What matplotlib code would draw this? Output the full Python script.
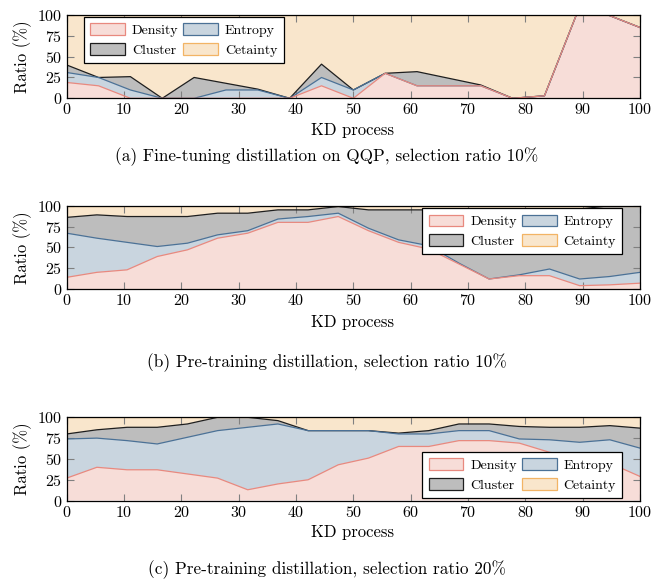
import numpy as np
import matplotlib
matplotlib.use("Agg")
import matplotlib.pyplot as plt
from matplotlib.patches import Patch

plt.rcParams['font.family'] = 'serif'
plt.rcParams['font.serif'] = ['cmr10']
plt.rcParams['mathtext.fontset'] = 'cm'
plt.rcParams['axes.formatter.use_mathtext'] = True

names = ['Density', 'Entropy', 'Cluster', 'Cetainty']
fills = ['#f7ddd8', '#c9d5df', '#bdbdbd', '#f9e6cc']
edges = ['#e8897f', '#4b7196', '#1e1e1e', '#f2b465']

# (a) fine-tuning on QQP, 19 checkpoints
x_a = np.linspace(0, 100, 19)
density_a = [19, 15, 0, 0, 0, 0, 0, 0, 15, 0, 30, 15, 15, 15, 0, 3, 100, 100, 85]
entropy_a = [12, 10, 10, 0, 0, 10, 10, 0, 10, 10, 0, 0, 0, 0, 0, 0, 0, 0, 0]
cluster_a = [9, 0, 16, 0, 25, 8, 1, 0, 16, 0, 0, 17, 9, 1, 0, 0, 0, 0, 0]
certainty_a = [60, 75, 74, 100, 75, 82, 89, 100, 59, 90, 70, 68, 76, 84, 100, 97, 0, 0, 15]

# (b) pre-training 10%, 20 checkpoints
x_b = np.linspace(0, 100, 20)
density_b = [14, 20, 23, 39, 47, 61, 67, 80, 80, 87, 70, 56, 48, 30, 12, 16, 16, 4, 5, 7]
entropy_b = [53, 41, 33, 12, 8, 4, 3, 4, 7, 4, 3, 3, 4, 1, 0, 1, 8, 8, 10, 13]
cluster_b = [19, 28, 31, 36, 32, 26, 21, 11, 8, 8, 22, 36, 43, 65, 84, 79, 72, 84, 85, 80]
certainty_b = [14, 11, 13, 13, 13, 9, 9, 5, 5, 1, 5, 5, 5, 4, 4, 4, 4, 4, 0, 0]

# (c) pre-training 20%
x_c = np.linspace(0, 100, 20)
density_c = [27, 40, 37, 37, 32, 27, 13, 20, 25, 43, 51, 65, 65, 72, 72, 69, 58, 52, 45, 29]
entropy_c = [47, 35, 35, 31, 44, 57, 75, 72, 59, 41, 33, 15, 15, 12, 12, 5, 15, 18, 28, 34]
cluster_c = [6, 10, 16, 20, 16, 16, 12, 4, 0, 0, 0, 1, 4, 8, 8, 15, 15, 18, 17, 24]
certainty_c = [20, 15, 12, 12, 8, 0, 0, 4, 16, 16, 16, 19, 16, 8, 8, 11, 12, 12, 10, 13]

captions = ['(a) Fine-tuning distillation on QQP, selection ratio 10%',
            '(b) Pre-training distillation, selection ratio 10%',
            '(c) Pre-training distillation, selection ratio 20%']

W, H = 654, 579
fig = plt.figure(figsize=(W / 100, H / 100), dpi=100)


def panel(top, x, series, caption, xlabel_y, cap_y, legend_loc):
    ax = fig.add_axes([66.7 / W, 1 - (top + 83.3) / H, 573.3 / W, 83.3 / H])
    ax.stackplot(x, *series, colors=fills, linewidth=0)
    cum = np.cumsum(np.array(series, dtype=float), axis=0)
    for i in range(4):
        ax.plot(x, cum[i], color=edges[i], lw=0.9, zorder=3 + (3 - i) * 0.1)
    ax.set_xlim(0, 100)
    ax.set_ylim(0, 100)
    ax.set_xticks(range(0, 101, 10))
    ax.set_yticks([0, 25, 50, 75, 100])
    ax.tick_params(direction='in', top=True, right=True, color='0.5',
                   length=5, labelsize=11.5, pad=3)
    for s in ax.spines.values():
        s.set_linewidth(0.9)
        s.set_zorder(5)
    ax.set_ylabel('Ratio (%)', fontsize=12, labelpad=4)
    fig.text(353 / W, 1 - xlabel_y / H, 'KD process', ha='center', va='center', fontsize=12)
    fig.text(327 / W, 1 - cap_y / H, caption, ha='center', va='center', fontsize=12.4)
    handles = [Patch(facecolor=fills[i], edgecolor=edges[i], lw=0.9) for i in range(4)]
    # columns read Density/Cluster, Entropy/Cetainty
    order = [0, 2, 1, 3]
    leg = ax.legend([handles[i] for i in order], [names[i] for i in order],
                    ncol=2, fontsize=10, handlelength=2.5, handleheight=0.9,
                    columnspacing=0.35, handletextpad=0.5, labelspacing=0.45,
                    borderpad=0.45, borderaxespad=0, fancybox=False, framealpha=1,
                    edgecolor='black', **legend_loc)
    leg.get_frame().set_linewidth(0.9)
    leg.set_zorder(10)
    return ax


panel(15, x_a, [density_a, entropy_a, cluster_a, certainty_a], captions[0], 130, 157,
      dict(loc='upper left', bbox_to_anchor=(0.03, 0.976)))
panel(205.7, x_b, [density_b, entropy_b, cluster_b, certainty_b], captions[1], 322, 363,
      dict(loc='upper right', bbox_to_anchor=(0.969, 0.969)))
panel(417.3, x_c, [density_c, entropy_c, cluster_c, certainty_c], captions[2], 532, 570,
      dict(loc='lower right', bbox_to_anchor=(0.969, 0.03)))

fig.savefig('out.png', dpi=100)
